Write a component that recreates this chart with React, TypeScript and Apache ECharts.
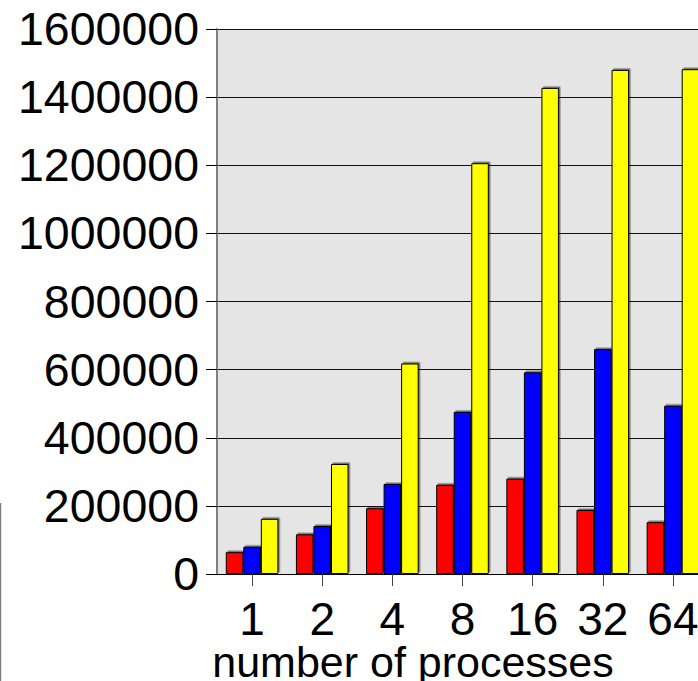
import React, { useEffect, useRef } from "react";
import * as echarts from "echarts";

const categories = ["1", "2", "4", "8", "16", "32", "64"];
const seriesRed = [64000, 116500, 193000, 262000, 280000, 188000, 152000];
const seriesBlue = [80000, 141000, 264000, 476000, 592000, 660000, 494000];
const seriesYellow = [162000, 323000, 618000, 1206000, 1427000, 1480000, 1482000];
const yTicks = { min: 0, max: 1600000, interval: 200000 };
const xAxisTitle = "number of processes";

const FONT = "Liberation Sans, Arial, sans-serif";

export default function App() {
  const ref = useRef<HTMLDivElement>(null);
  useEffect(() => {
    if (!ref.current) return;
    const chart = echarts.init(ref.current, undefined, { renderer: "svg" });
    const barStyle = (color: string) => ({
      color,
      borderColor: "#000",
      borderWidth: 1,
      shadowColor: "rgba(0,0,0,0.5)",
      shadowBlur: 0,
      shadowOffsetX: 1.5,
      shadowOffsetY: -1.5,
    });
    const mk = (name: string, data: number[], color: string) => ({
      name,
      type: "bar",
      data,
      barGap: "0%",
      barCategoryGap: "25%",
      itemStyle: barStyle(color),
    });
    chart.setOption({
      animation: false,
      backgroundColor: "#ffffff",
      textStyle: { fontFamily: FONT },
      grid: {
        left: 217,
        right: 12,
        top: 29,
        bottom: 107,
        show: true,
        backgroundColor: "#e5e5e5",
        borderWidth: 0,
      },
      xAxis: {
        type: "category",
        data: categories,
        axisLine: { show: true, lineStyle: { color: "#000", width: 1 } },
        axisTick: {
          show: true,
          alignWithLabel: true,
          length: 12,
          lineStyle: { color: "#444", width: 1 },
        },
        axisLabel: {
          color: "#000",
          fontSize: 46,
          lineHeight: 34,
          fontFamily: FONT,
          margin: 28,
        },
        splitLine: { show: false },
      },
      yAxis: {
        type: "value",
        min: yTicks.min,
        max: yTicks.max,
        interval: yTicks.interval,
        axisLine: { show: true, lineStyle: { color: "#808080", width: 2 } },
        axisTick: { show: true, length: 11, lineStyle: { color: "#000", width: 1 } },
        axisLabel: {
          color: "#000",
          fontSize: 46.5,
          fontFamily: FONT,
          margin: 18,
          formatter: (v: number) => String(v),
        },
        splitLine: { show: true, lineStyle: { color: "#111", width: 1 } },
      },
      series: [
        mk("red", seriesRed, "#ff0000"),
        mk("blue", seriesBlue, "#0000ff"),
        mk("yellow", seriesYellow, "#ffff00"),
      ],
      graphic: [
        {
          type: "text",
          x: 413,
          y: 662,
          style: {
            text: xAxisTitle,
            fontSize: 43,
            lineHeight: 34,
            fontFamily: FONT,
            fill: "#000",
            align: "center",
            verticalAlign: "middle",
          },
        },
        {
          type: "line",
          shape: { x1: 0.5, y1: 503, x2: 0.5, y2: 681 },
          style: { stroke: "#808080", lineWidth: 1.5 },
        },
      ],
    });
    return () => chart.dispose();
  }, []);
  return (
    <div style={{ position: "fixed", left: 0, top: 0, width: 698, height: 681, overflow: "hidden" }}>
      <div ref={ref} style={{ width: 720, height: 681 }} />
    </div>
  );
}
